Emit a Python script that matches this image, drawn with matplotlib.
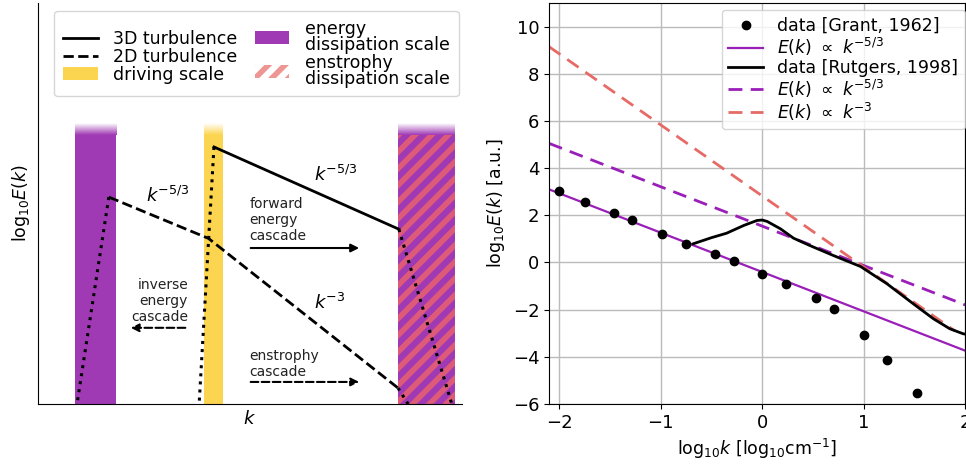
import numpy as np
import matplotlib
matplotlib.use("Agg")
import matplotlib.pyplot as plt
from matplotlib.patches import Rectangle, Patch
from matplotlib.lines import Line2D

# colours
PURPLE_BAR = '#a03ab4'
PURPLE_LINE = '#9a1eb8'
YELLOW = '#fcd550'
SALMON = '#e66a66'
HATCH = '#e8606e'

# ---- left panel: schematic spectrum (axes units) ----
bar_energy_x = [0.087, 0.184]
bar_drive_x = [0.392, 0.436]
bar_enstrophy_x = [0.849, 0.983]
bar_top_solid = 0.671
bar_top_fade = 0.700

line3d_x = [0.415, 0.851]
line3d_y = [0.641, 0.436]
dot3d_left_x = [0.415, 0.380]
dot3d_left_y = [0.641, 0.0]
dot3d_right_x = [0.851, 0.976]
dot3d_right_y = [0.436, 0.0]

line2d_x = [0.167, 0.402, 0.849]
line2d_y = [0.516, 0.413, 0.040]
dot2d_left_x = [0.167, 0.092]
dot2d_left_y = [0.516, 0.0]
dot2d_right_x = [0.849, 0.873]
dot2d_right_y = [0.040, 0.0]

# ---- right panel: measured spectra ----
grant_x = [-2.00, -1.75, -1.46, -1.28, -0.99, -0.75, -0.46, -0.28, 0.00,
           0.24, 0.53, 0.71, 1.00, 1.23, 1.53]
grant_y = [3.05, 2.58, 2.09, 1.78, 1.22, 0.79, 0.34, 0.08, -0.48,
           -0.93, -1.51, -1.99, -3.06, -4.15, -5.52]

rutgers_x = [-0.68, -0.50, -0.35, -0.18, -0.05, 0.00, 0.05, 0.18, 0.31, 0.47,
             0.70, 0.97, 1.23, 1.49, 1.69, 1.85, 1.98, 2.05]
rutgers_y = [0.79, 1.05, 1.24, 1.57, 1.78, 1.80, 1.74, 1.43, 1.03, 0.72,
             0.30, -0.17, -0.90, -1.75, -2.39, -2.81, -3.02, -3.08]

fit_x = [-2.1, 2.05]
grant_fit_y = [3.10, -3.82]
rutgers_fit53_y = [5.05, -1.88]
fit3_x = [-2.1, 1.9]
rutgers_fit3_y = [9.15, -2.90]

xticks = [-2, -1, 0, 1, 2]
yticks = [-6, -4, -2, 0, 2, 4, 6, 8, 10]

plt.rcParams['hatch.linewidth'] = 4.0

fig = plt.figure(figsize=(9.66, 4.68), dpi=100)
W, H = 966, 468
ax1 = fig.add_axes([38 / W, 64 / H, 424 / W, 401 / H])
ax2 = fig.add_axes([549 / W, 64 / H, 416 / W, 401 / H])


def faded_bar(ax, xs, color, hatch=None):
    ax.add_patch(Rectangle((xs[0], 0), xs[1] - xs[0], bar_top_solid,
                           facecolor=color, edgecolor='none', zorder=1))
    rgba = np.zeros((40, 1, 4))
    rgba[..., :3] = matplotlib.colors.to_rgb(color)
    rgba[:, 0, 3] = np.linspace(0, 1, 40)
    ax.imshow(rgba, extent=(xs[0], xs[1], bar_top_solid, bar_top_fade),
              aspect='auto', origin='upper', zorder=1, interpolation='bilinear')
    if hatch:
        ax.add_patch(Rectangle((xs[0], 0), xs[1] - xs[0], bar_top_solid,
                               facecolor='none', edgecolor=HATCH, hatch=hatch,
                               lw=0, alpha=0.85, zorder=1.5))


faded_bar(ax1, bar_energy_x, PURPLE_BAR)
faded_bar(ax1, bar_drive_x, YELLOW)
faded_bar(ax1, bar_enstrophy_x, PURPLE_BAR, hatch='//')

ax1.plot(line3d_x, line3d_y, 'k-', lw=2, zorder=3)
ax1.plot(dot3d_left_x, dot3d_left_y, 'k:', lw=2.2, zorder=3)
ax1.plot(dot3d_right_x, dot3d_right_y, 'k:', lw=2.2, zorder=3)
ax1.plot(line2d_x, line2d_y, 'k--', lw=2, zorder=3)
ax1.plot(dot2d_left_x, dot2d_left_y, 'k:', lw=2.2, zorder=3)
ax1.plot(dot2d_right_x, dot2d_right_y, 'k:', lw=2.2, zorder=3)

ax1.text(0.307, 0.519, r'$k^{-5/3}$', fontsize=13, ha='center', va='center')
ax1.text(0.703, 0.571, r'$k^{-5/3}$', fontsize=13, ha='center', va='center')
ax1.text(0.689, 0.252, r'$k^{-3}$', fontsize=13, ha='center', va='center')

ax1.text(0.499, 0.459, 'forward\nenergy\ncascade', fontsize=10, ha='left',
         va='center', linespacing=1.2, color='#222222')
ax1.annotate('', xy=(0.764, 0.389), xytext=(0.495, 0.389),
             arrowprops=dict(arrowstyle='-|>', color='k', lw=1.5, mutation_scale=12))
ax1.text(0.354, 0.257, 'inverse\nenergy\ncascade', fontsize=10, ha='right',
         va='center', linespacing=1.2, color='#222222')
ax1.annotate('', xy=(0.212, 0.190), xytext=(0.354, 0.190),
             arrowprops=dict(arrowstyle='-|>', color='k', lw=1.5, ls='--',
                             mutation_scale=12))
ax1.text(0.499, 0.100, 'enstrophy\ncascade', fontsize=10, ha='left',
         va='center', linespacing=1.2, color='#222222')
ax1.annotate('', xy=(0.764, 0.055), xytext=(0.495, 0.055),
             arrowprops=dict(arrowstyle='-|>', color='k', lw=1.5, ls='--',
                             mutation_scale=12))

ax1.set_xlim(0, 1)
ax1.set_ylim(0, 1)
ax1.set_xticks([])
ax1.set_yticks([])
for s in ['top', 'right']:
    ax1.spines[s].set_visible(False)
ax1.set_xlabel(r'$k$', fontsize=13)
ax1.set_ylabel(r'log$_{10}E(k)$', fontsize=12.5)

handles = [
    Line2D([], [], color='k', lw=2, ls='-'),
    Line2D([], [], color='k', lw=2, ls='--'),
    Patch(facecolor=YELLOW, edgecolor='none'),
    Patch(facecolor=PURPLE_BAR, edgecolor='none'),
    Patch(facecolor='white', edgecolor=SALMON, hatch='//', lw=0, alpha=0.7),
]
labels = ['3D turbulence', '2D turbulence', 'driving scale',
          'energy\ndissipation scale', 'enstrophy\ndissipation scale']
leg1 = ax1.legend(handles, labels, ncol=2, loc='upper left',
                  bbox_to_anchor=(0.038, 0.98), borderaxespad=0, fontsize=12.5,
                  labelspacing=0.0, handletextpad=0.9, columnspacing=1.0,
                  borderpad=0.5)
for t in leg1.get_texts():
    t.set_linespacing(0.85)

# ---- right panel ----
ax2.plot(grant_x, grant_y, 'ko', ms=6, label='data [Grant, 1962]', zorder=4)
ax2.plot(fit_x, grant_fit_y, '-', color=PURPLE_LINE, lw=1.6,
         label=r'$E(k)\ \propto\ k^{-5/3}$')
ax2.plot(rutgers_x, rutgers_y, 'k-', lw=2, label='data [Rutgers, 1998]', zorder=3)
ax2.plot(fit_x, rutgers_fit53_y, '--', color=PURPLE_LINE, lw=2, dashes=(5, 3),
         label=r'$E(k)\ \propto\ k^{-5/3}$')
ax2.plot(fit3_x, rutgers_fit3_y, '--', color=SALMON, lw=2, dashes=(5, 3),
         label=r'$E(k)\ \propto\ k^{-3}$')

ax2.set_xlim(-2.1, 2.0)
ax2.set_ylim(-6, 11)
ax2.set_xticks(xticks)
ax2.set_yticks(yticks)
ax2.tick_params(labelsize=13)
ax2.grid(True, color='#bbbbbb', lw=1)
ax2.set_axisbelow(True)
ax2.set_xlabel(r'log$_{10}k$ [log$_{10}$cm$^{-1}$]', fontsize=12.5)
ax2.set_ylabel(r'log$_{10}E(k)$ [a.u.]', fontsize=12.5)
ax2.legend(loc='upper right', bbox_to_anchor=(1.0, 0.983), borderaxespad=0,
           fontsize=12.5, labelspacing=0.05, handlelength=2.0)

fig.savefig('out.png', dpi=100)
